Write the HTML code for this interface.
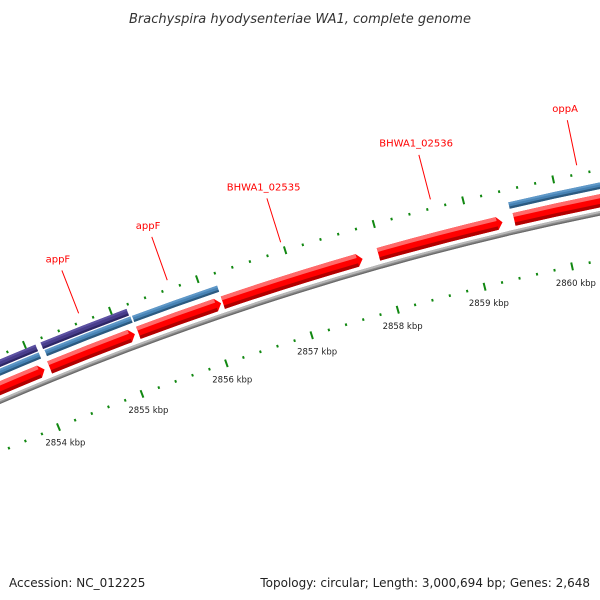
<!DOCTYPE html>
<html><head><meta charset="utf-8"><style>
body{margin:0;background:#fff;}
svg{display:block;}
</style></head><body>
<svg id="map" width="600" height="600" viewBox="0 0 600 600" xmlns="http://www.w3.org/2000/svg">
<rect x="0" y="0" width="600" height="600" fill="#fff"/>
<text x="300" y="23" text-anchor="middle" font-family="'DejaVu Sans','Liberation Sans',sans-serif" font-style="italic" font-size="13" fill="#333">Brachyspira hyodysenteriae WA1, complete genome</text>
<g id="plot"></g>
<text x="9" y="587" font-family="'DejaVu Sans','Liberation Sans',sans-serif" font-size="12" fill="#222">Accession: NC_012225</text>
<text x="590" y="587" text-anchor="end" font-family="'DejaVu Sans','Liberation Sans',sans-serif" font-size="12" fill="#222">Topology: circular; Length: 3,000,694 bp; Genes: 2,648</text>
</svg>
<script>
// ---- data (kbp) ----
const geneStarts = [2852.5, 2854.16, 2855.20, 2856.18, 2857.96, 2859.49, 2852.5, 2854.18, 2855.20, 2859.47, 2852.5, 2854.17];
const geneEnds   = [2854.10, 2855.16, 2856.16, 2857.78, 2859.36, 2861.5, 2854.11, 2855.18, 2856.18, 2861.1, 2854.11, 2855.17];
const geneTracks = ["red","red","red","red","red","red","blue","blue","blue","blue","purple","purple"];
const labelNames = ["appF","appF","BHWA1_02535","BHWA1_02536","oppA"];
const labelKbp   = [2854.67, 2855.69, 2856.98, 2858.66, 2860.28];
const tickStartKbp = 2852;
const tickEndKbp = 2862;
const tickLabelKbp = [2854, 2855, 2856, 2857, 2858, 2859, 2860, 2861];

// ---- geometry ----
const CX = 1210, CY = 3207;
const A0 = -112.5, DEG_PER_KBP = 1.71, K0 = 2854;
const NS = "http://www.w3.org/2000/svg";
const plot = document.getElementById('plot');
function ang(k){ return (A0 + (k - K0) * DEG_PER_KBP) * Math.PI / 180; }
function pt(r,k){ const a = ang(k); return [CX + r*Math.cos(a), CY + r*Math.sin(a)]; }
function f(p){ return p[0].toFixed(2)+' '+p[1].toFixed(2); }
function band(r1,r2,k1,k2){
  return 'M'+f(pt(r2,k1))+' A'+r2+' '+r2+' 0 0 1 '+f(pt(r2,k2))+' L'+f(pt(r1,k2))+' A'+r1+' '+r1+' 0 0 0 '+f(pt(r1,k1))+' Z';
}
function arrow(r1,r2,k1,k2,h){
  const rm=(r1+r2)/2;
  return 'M'+f(pt(r2,k1))+' A'+r2+' '+r2+' 0 0 1 '+f(pt(r2,k2-h))+' L'+f(pt(rm,k2))+' L'+f(pt(r1,k2-h))+' A'+r1+' '+r1+' 0 0 0 '+f(pt(r1,k1))+' Z';
}
function addPath(d, fill, name){
  const p = document.createElementNS(NS,'path');
  p.setAttribute('d', d); p.setAttribute('fill', fill);
  
  
  plot.appendChild(p); return p;
}
function addLine(a,b,stroke,w,name){
  const l = document.createElementNS(NS,'line');
  l.setAttribute('x1',a[0]); l.setAttribute('y1',a[1]); l.setAttribute('x2',b[0]); l.setAttribute('y2',b[1]);
  l.setAttribute('stroke',stroke); l.setAttribute('stroke-width',w);
  
  
  plot.appendChild(l); return l;
}
function addText(p,str,size,fill,name){
  const t = document.createElementNS(NS,'text');
  t.setAttribute('x',p[0].toFixed(1)); t.setAttribute('y',p[1].toFixed(1));
  t.setAttribute('text-anchor','middle'); t.setAttribute('dominant-baseline','central');
  t.setAttribute('font-family',"'DejaVu Sans','Liberation Sans',sans-serif");
  t.setAttribute('font-size',size); t.setAttribute('fill',fill);
  t.textContent = str;
  
  
  plot.appendChild(t); return t;
}

// backbone
addPath(band(3053,3057.5,2850,2864),'#8a8a8a','backbone');
addPath(band(3055.5,3057.5,2850,2864),'#b8b8b8','backbone-highlight');
addPath(band(3053,3054.2,2850,2864),'#6a6a6a','backbone-shadow');

// tracks
const trackR = {red:[3061,3074], blue:[3079,3085.5], purple:[3087,3094]};
const trackCol = {red:['#ff0000','#ff6a6a','#b00000'], blue:['#4682b4','#5f98c8','#2c5a80'], purple:['#483d8b','#5d52a3','#2e2766']};
for(let i=0;i<geneStarts.length;i++){
  const tr = geneTracks[i], r = trackR[tr], c = trackCol[tr];
  const k1 = geneStarts[i], k2 = geneEnds[i];
  if(tr==='red'){
    const h = 0.06;
    addPath(arrow(r[0],r[1],k1,k2,h),c[0],'gene-'+tr+'-'+i);
    addPath(band(r[1]-4,r[1],k1,k2-h),c[1],'gene-highlight-'+i);
    addPath(band(r[0],r[0]+3.5,k1,k2-h),c[2],'gene-shadow-'+i);
  } else {
    addPath(band(r[0],r[1],k1,k2),c[0],'gene-'+tr+'-'+i);
    addPath(band(r[1]-2,r[1],k1,k2),c[1],'gene-highlight-'+i);
    addPath(band(r[0],r[0]+2.2,k1,k2),c[2],'gene-shadow-'+i);
  }
}

// tick rings
const nT = Math.round((tickEndKbp - tickStartKbp)/0.2);
for(let j=0;j<=nT;j++){
  const k = tickStartKbp + j*0.2;
  const major = (j % 5) === 0;
  const lo = major ? 4 : 1.3, hi = major ? 4 : 1.3;
  addLine(pt(3098-lo,k),pt(3098+hi,k),'#118811',2,major?'outer-major-tick':'outer-minor-tick');
  addLine(pt(3009-lo,k),pt(3009+hi,k),'#118811',2,major?'inner-major-tick':'inner-minor-tick');
}
for(let j=0;j<tickLabelKbp.length;j++){
  const k = tickLabelKbp[j];
  addText(pt(2991,k), k+' kbp', 8.5, '#222', 'tick-label-'+k);
}

// gene labels
for(let j=0;j<labelNames.length;j++){
  const k = labelKbp[j];
  addLine(pt(3107,k),pt(3153,k),'#ff0000',1,'label-leader-'+j);
  addText(pt(3164,k), labelNames[j], 10, '#ff0000', 'gene-label-'+labelNames[j].toLowerCase());
}
</script>
</body></html>
